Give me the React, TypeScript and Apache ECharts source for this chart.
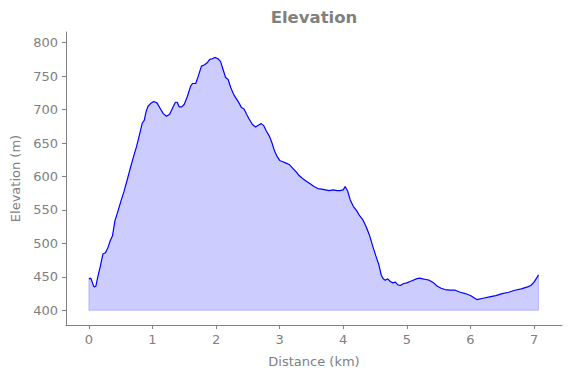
import React, { useEffect, useRef } from "react";
import * as echarts from "echarts";

const distance = [
  0.00, 0.03, 0.06, 0.08, 0.11, 0.14, 0.18, 0.22, 0.26, 0.30, 0.34, 0.37, 0.41, 0.45, 0.50, 0.55, 0.60, 0.65, 0.70, 0.75,
  0.80, 0.84, 0.87, 0.90, 0.93, 0.97, 1.02, 1.07, 1.12, 1.17, 1.22, 1.27, 1.32, 1.36, 1.39, 1.42, 1.46, 1.50, 1.55, 1.60,
  1.63, 1.68, 1.72, 1.77, 1.82, 1.86, 1.90, 1.94, 1.98, 2.03, 2.07, 2.11, 2.15, 2.19, 2.23, 2.28, 2.32, 2.36, 2.40, 2.44,
  2.48, 2.52, 2.57, 2.62, 2.67, 2.71, 2.75, 2.79, 2.84, 2.88, 2.92, 2.96, 3.00, 3.05, 3.10, 3.15, 3.20, 3.26, 3.31, 3.36,
  3.42, 3.48, 3.54, 3.60, 3.66, 3.72, 3.78, 3.84, 3.90, 3.95, 4.00, 4.03, 4.07, 4.11, 4.16, 4.21, 4.26, 4.31, 4.36, 4.41,
  4.46, 4.51, 4.56, 4.60, 4.63, 4.66, 4.70, 4.74, 4.78, 4.82, 4.86, 4.90, 4.95, 5.00, 5.05, 5.10, 5.15, 5.20, 5.25, 5.30,
  5.35, 5.42, 5.48, 5.54, 5.60, 5.68, 5.76, 5.84, 5.92, 6.00, 6.05, 6.10, 6.20, 6.30, 6.40, 6.50, 6.60, 6.70, 6.80, 6.90,
  6.95, 7.00, 7.04, 7.07,
];
const elevation = [
  447, 448, 440, 435, 436, 450, 466, 484, 486, 494, 505, 511, 534, 546, 562, 577, 594, 612, 629, 645,
  664, 680, 684, 697, 705, 709, 712, 710, 702, 694, 690, 693, 703, 711, 711, 704, 704, 708, 720, 735,
  739, 739, 750, 765, 767, 770, 775, 776, 778, 776, 772, 760, 748, 745, 733, 722, 716, 710, 703, 701,
  693, 686, 678, 674, 677, 679, 676, 668, 660, 650, 638, 630, 624, 622, 620, 618, 613, 607, 601, 597,
  593, 589, 585, 582, 581, 580, 579, 580, 579, 579, 580, 585, 578, 565, 555, 549, 541, 535, 525, 513,
  497, 482, 468, 452, 447, 445, 447, 443, 441, 442, 438, 437, 440, 441, 443, 445, 447, 448, 447, 446,
  445, 441, 436, 433, 431, 430, 430, 427, 425, 422, 419, 416, 418, 420, 422, 425, 427, 430, 432, 435,
  437, 442, 448, 453,
];
const baseline = 400;
const xTicks = [0, 1, 2, 3, 4, 5, 6, 7];
const yTicks = [400, 450, 500, 550, 600, 650, 700, 750, 800];
const titleText = "Elevation";

const GRAY = "#808080";
const FONT = "DejaVu Sans";

export default function App() {
  const ref = useRef<HTMLDivElement>(null);
  useEffect(() => {
    if (!ref.current) return;
    const chart = echarts.init(ref.current, null, { renderer: "svg" });
    const pts = distance.map((d, i) => [d, elevation[i]]);
    const n = distance.length - 1;
    const edge = [
      [distance[0], elevation[0]],
      [distance[0], baseline],
      [distance[n], baseline],
      [distance[n], elevation[n]],
    ];
    chart.setOption({
      animation: false,
      graphic: [
        {
          type: "text",
          x: 314,
          y: 17,
          style: {
            text: titleText,
            fill: GRAY,
            fontFamily: FONT,
            fontSize: 16.5,
            fontWeight: "bold",
            textAlign: "center",
            textVerticalAlign: "middle",
          },
        },
      ],
      grid: { left: 66, right: 9, top: 32, bottom: 53, containLabel: false },
      xAxis: {
        type: "value",
        min: -0.36,
        max: 7.44,
        name: "Distance (km)",
        nameLocation: "middle",
        nameGap: 30,
        nameTextStyle: { color: GRAY, fontFamily: FONT, fontSize: 13 },
        axisLine: { show: true, onZero: false, lineStyle: { color: GRAY, width: 1 } },
        axisTick: { show: true, length: 4, customValues: xTicks, lineStyle: { color: GRAY } },
        axisLabel: { customValues: xTicks, color: GRAY, fontFamily: FONT, fontSize: 13, margin: 8 },
        splitLine: { show: false },
      },
      yAxis: {
        type: "value",
        min: 378,
        max: 816,
        name: "Elevation (m)",
        nameLocation: "middle",
        nameGap: 43,
        nameTextStyle: { color: GRAY, fontFamily: FONT, fontSize: 13 },
        axisLine: { show: true, onZero: false, lineStyle: { color: GRAY, width: 1 } },
        axisTick: { show: true, length: 4, customValues: yTicks, lineStyle: { color: GRAY } },
        axisLabel: { customValues: yTicks, color: GRAY, fontFamily: FONT, fontSize: 13, margin: 8 },
        splitLine: { show: false },
      },
      series: [
        {
          type: "line",
          data: pts,
          showSymbol: false,
          smooth: false,
          lineStyle: { color: "#0000ff", width: 1.2 },
          itemStyle: { color: "#0000ff" },
          areaStyle: { color: "rgba(0,0,255,0.2)", origin: baseline, opacity: 1 },
          z: 3,
        },
        {
          type: "line",
          data: edge,
          showSymbol: false,
          lineStyle: { color: "rgba(0,0,255,0.2)", width: 1 },
          z: 2,
        },
      ],
    });
    return () => chart.dispose();
  }, []);
  return <div ref={ref} style={{ width: 571, height: 378, marginLeft: -8, marginTop: -8 }} />;
}
